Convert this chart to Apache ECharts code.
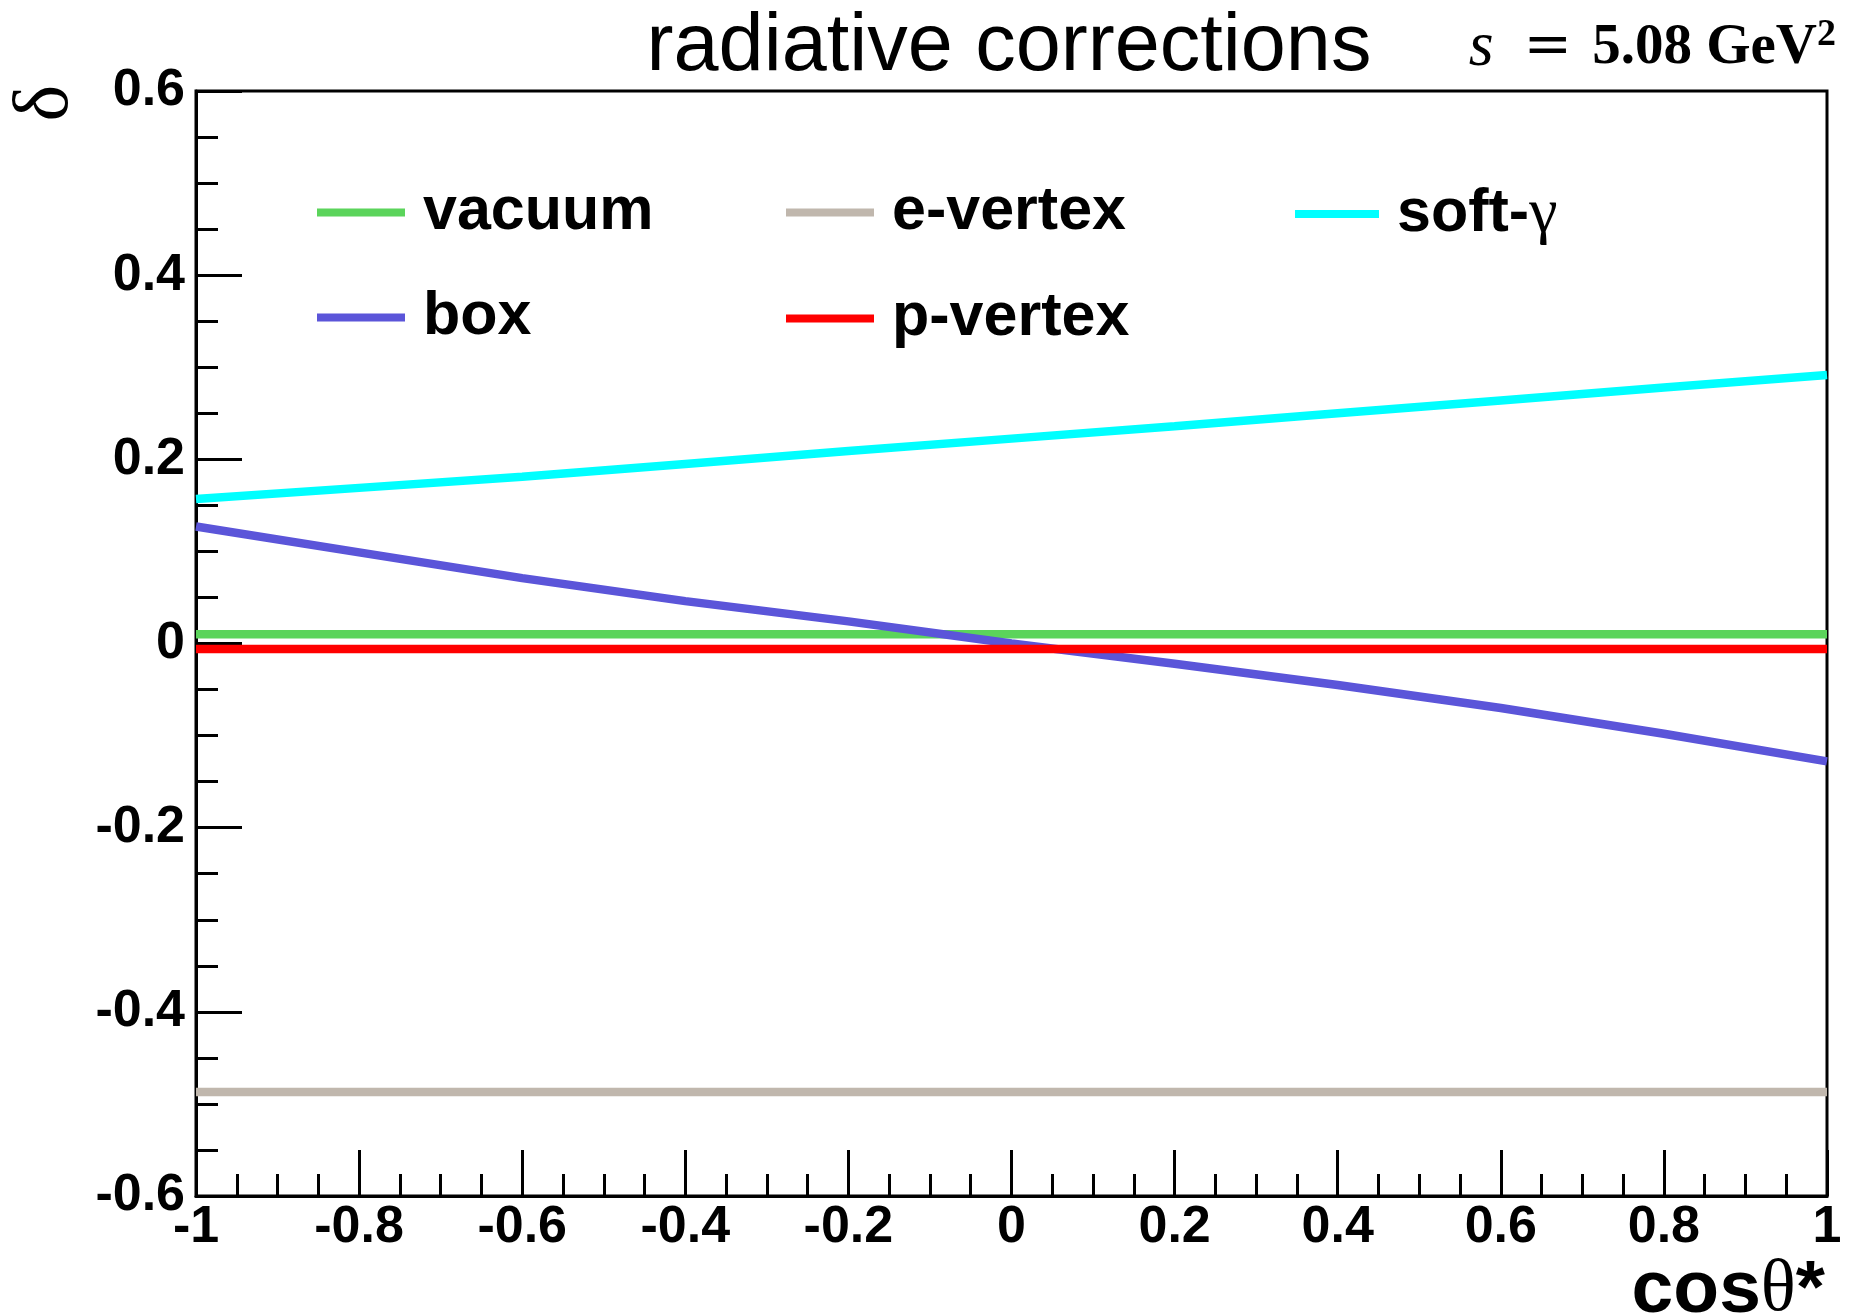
<!DOCTYPE html>
<html>
<head>
<meta charset="utf-8">
<script src="https://cdn.jsdelivr.net/npm/echarts@6/dist/echarts.min.js"></script>
<style>
  html, body { margin: 0; padding: 0; background: #fff; }
  #chart { width: 1850px; height: 1315px; }
</style>
</head>
<body>
<div id="chart"></div>
<script>
// values
const cosTheta = [-1, -0.8, -0.6, -0.4, -0.2, 0, 0.2, 0.4, 0.6, 0.8, 1];
const vacuum  = [0.010, 0.010, 0.010, 0.010, 0.010, 0.010, 0.010, 0.010, 0.010, 0.010, 0.010];
const eVertex = [-0.487, -0.487, -0.487, -0.487, -0.487, -0.487, -0.487, -0.487, -0.487, -0.487, -0.487];
const softGamma = [0.157, 0.169, 0.181, 0.195, 0.209, 0.2225, 0.236, 0.250, 0.264, 0.278, 0.2915];
const box     = [0.127, 0.099, 0.071, 0.046, 0.024, 0.000, -0.022, -0.045, -0.070, -0.098, -0.128];
const pVertex = [-0.006, -0.006, -0.006, -0.006, -0.006, -0.006, -0.006, -0.006, -0.006, -0.006, -0.006];

const seriesNames = ["vacuum", "e-vertex", "soft-γ", "box", "p-vertex"];
const seriesValues = [vacuum, eVertex, softGamma, box, pVertex];
const seriesColors = ["#5bd45b", "#c0b7ad", "#00ffff", "#5b55d9", "#ff0000"];

// legend placement: [left, top] for each entry
const legendPos = [[312, 177], [781, 177], [1290, 177], [312, 282], [781, 283]];

const chart = echarts.init(document.getElementById("chart"));

function fmt(v) {
  const s = Math.round(v * 10) / 10;
  if (s === 0) return "0";
  return Number.isInteger(s) ? String(s) : s.toFixed(1);
}

const labelFont = {
  color: "#000",
  fontFamily: "Liberation Sans, Arial, sans-serif",
  fontWeight: "bold",
  fontSize: 52,
};

const option = {
  backgroundColor: "#fff",
  animation: false,
  grid: {
    left: 196,
    top: 91,
    right: 23,
    bottom: 119,
    show: true,
    borderColor: "#000",
    borderWidth: 3,
    containLabel: false,
  },
  legend: seriesNames.map((name, i) => ({
    data: [name],
    left: legendPos[i][0],
    top: legendPos[i][1],
    icon: "rect",
    itemWidth: i === 2 ? 84 : 88,
    itemHeight: 8,
    selectedMode: false,
    formatter: (n) => (n === "soft-γ" ? "{a|soft-}{g|γ}" : "{a|" + n + "}"),
    textStyle: {
      color: "#000",
      padding: [0, 0, 0, 13],
      rich: {
        a: { fontFamily: "Liberation Sans, Arial, sans-serif", fontWeight: "bold", fontSize: 61, color: "#000" },
        g: { fontFamily: "Liberation Serif, serif", fontWeight: "normal", fontSize: 64, color: "#000" },
      },
    },
  })),
  xAxis: {
    type: "value",
    min: -1,
    max: 1,
    interval: 0.2,
    axisLine: { onZero: false, lineStyle: { color: "#000", width: 3 } },
    axisTick: { inside: true, length: 46, lineStyle: { color: "#000", width: 3 } },
    minorTick: { show: true, splitNumber: 4, length: 22, lineStyle: { color: "#000", width: 3 } },
    splitLine: { show: false },
    axisLabel: Object.assign({ margin: 6, formatter: fmt }, labelFont),
  },
  yAxis: {
    type: "value",
    min: -0.6,
    max: 0.6,
    interval: 0.2,
    axisLine: { onZero: false, lineStyle: { color: "#000", width: 3 } },
    axisTick: { inside: true, length: 46, lineStyle: { color: "#000", width: 3 } },
    minorTick: { show: true, splitNumber: 4, length: 22, lineStyle: { color: "#000", width: 3 } },
    splitLine: { show: false },
    axisLabel: Object.assign({ margin: 11, formatter: fmt }, labelFont),
  },
  series: seriesNames.map((name, i) => ({
    name: name,
    type: "line",
    showSymbol: false,
    symbol: "none",
    color: seriesColors[i],
    lineStyle: { color: seriesColors[i], width: 8.5 },
    data: cosTheta.map((c, k) => [c, seriesValues[i][k]]),
  })),
  graphic: [
    {
      type: "text",
      x: 1009,
      y: 48,
      style: {
        text: "radiative corrections",
        font: "normal 81px 'Liberation Sans', Arial, sans-serif",
        fill: "#000",
        align: "center",
        verticalAlign: "middle",
      },
    },
    {
      type: "text",
      x: 1836,
      y: 48,
      style: {
        text: "{s|s}{eq|=}{b|5.08 GeV}{sup|2}",
        align: "right",
        verticalAlign: "middle",
        fill: "#000",
        rich: {
          s: { font: "italic 64px 'Liberation Serif', serif", fill: "#000" },
          eq: { font: "normal 58px 'DejaVu Serif', serif", fill: "#000", padding: [0, 20, 0, 30] },
          b: { font: "bold 57px 'Liberation Serif', serif", fill: "#000" },
          sup: { font: "bold 38px 'Liberation Serif', serif", fill: "#000", verticalAlign: "top", padding: [0, 0, 24, 0] },
        },
      },
    },
    {
      // y-axis title, turned on its side
      type: "group",
      x: 47,
      y: 103,
      rotation: Math.PI / 2,
      children: [
        {
          type: "text",
          style: {
            text: "δ",
            font: "normal 78px 'Liberation Serif', serif",
            fill: "#000",
            align: "center",
            verticalAlign: "middle",
          },
        },
      ],
    },
    {
      type: "text",
      x: 1825,
      y: 1291,
      style: {
        text: "{a|cos}{t|θ}{a|*}",
        align: "right",
        verticalAlign: "middle",
        fill: "#000",
        rich: {
          a: { font: "bold 75px 'Liberation Sans', Arial, sans-serif", fill: "#000" },
          t: { font: "normal 73px 'Liberation Serif', serif", fill: "#000" },
        },
      },
    },
  ],
};

chart.setOption(option);
</script>
</body>
</html>
